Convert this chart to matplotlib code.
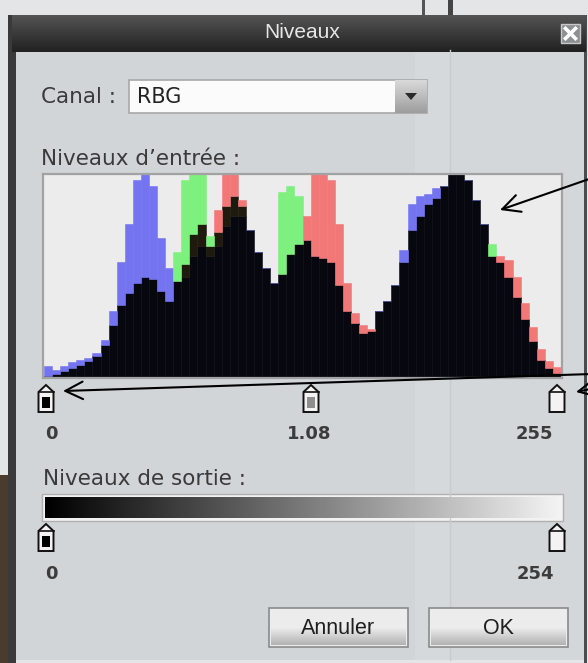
import numpy as np
import matplotlib
matplotlib.use('Agg')
import matplotlib.pyplot as plt
from matplotlib.patches import Rectangle, Polygon

# histogram data: 64 bins of 4 levels each, value = % of histogram height (>100 = clipped)
bin_start = np.arange(0, 256, 4)
red = [0.5, 1.5, 3, 4.5, 6, 8, 10.5, 16, 26, 36, 42, 47, 50, 49, 43, 38,
       48, 56, 71, 76, 65, 83, 110, 110, 88, 73, 62, 54, 47, 51, 61, 66,
       80, 110, 110, 98, 76, 47, 32, 26, 24, 33, 38, 46, 57, 73, 80, 86,
       89, 95, 110, 110, 98, 88, 76, 60, 60, 58, 50, 37, 25, 14, 8, 5]
green = [0.5, 1.5, 3, 4.5, 6, 8, 10.5, 16, 26, 36, 42, 47, 50, 49, 43, 38,
         62, 98, 110, 110, 70, 72, 85, 90, 85, 73, 62, 54, 47, 92, 95, 90,
         68, 60, 59, 57, 46, 33, 27, 22, 23, 33, 38, 46, 57, 73, 80, 86,
         89, 95, 110, 110, 98, 88, 76, 66, 57, 50, 40, 29, 18, 8.5, 4.5, 2]
blue = [5.5, 3.5, 5.5, 7.5, 8.5, 9.5, 12, 18.5, 33, 57, 76, 98, 110, 95, 69, 54,
        48, 50, 60, 65, 60, 65, 75, 80, 80, 73, 62, 54, 47, 51, 61, 66,
        68, 60, 59, 57, 46, 33, 27, 22, 23, 33, 38, 46, 63, 86, 90, 91,
        94, 95, 110, 110, 98, 88, 76, 60, 57, 50, 40, 29, 18, 8.5, 4.5, 2]

input_labels = ['0', '1.08', '255']
output_labels = ['0', '254']

UI = 'DejaVu Sans'
ARIAL = 'Liberation Sans'

fig = plt.figure(figsize=(5.88, 6.63), dpi=100)
ax = fig.add_axes([0, 0, 1, 1])
ax.axis('off')


def rect(x0, y0, x1, y1, **kw):
    ax.add_patch(Rectangle((x0, y0), x1 - x0, y1 - y0, **kw))


# --- background / window frame
rect(0, 0, 588, 663, facecolor='#e4e5e6', lw=0)
rect(0, 475, 9, 663, facecolor='#4a3b2c', lw=0)
rect(8, 15, 16, 663, facecolor='#3a3a3a', lw=0)
rect(16, 50, 585, 660, facecolor='#d1d5d8', lw=0)
rect(415, 50, 450, 660, facecolor='#d6d9dc', lw=0)
rect(450, 50, 585, 660, facecolor='#d4d7da', lw=0)
ax.plot([450, 450], [50, 660], color='#c8cbce', lw=1)
rect(584, 15, 587, 663, facecolor='#4a4c4e', lw=0)
rect(422, 0, 425, 15, facecolor='#555555', lw=0)
rect(448, 0, 453, 15, facecolor='#444444', lw=0)

# title bar
grad_v = np.linspace(0.33, 0.13, 40).reshape(-1, 1)
ax.imshow(grad_v, extent=(12, 586, 52, 15), cmap='gray', vmin=0, vmax=1,
          aspect='auto', zorder=1)
ax.text(302, 33, 'Niveaux', family=ARIAL, fontsize=15, color='#e6e6e6',
        ha='center', va='center', zorder=3)
rect(561, 24, 580, 43, facecolor='#8d9092', edgecolor='#c8c8c8', lw=1, zorder=3)
ax.plot([565.5, 575.5], [28.5, 38.5], color='white', lw=2.6, zorder=4)
ax.plot([565.5, 575.5], [38.5, 28.5], color='white', lw=2.6, zorder=4)

# --- canal
ax.text(41, 97, 'Canal :', family=UI, fontsize=15.5, color='#3a3a3a',
        ha='left', va='center')
rect(129, 80, 427, 113, facecolor='#fbfbfb', edgecolor='#a8a8a8', lw=1.2)
grad_b = np.linspace(0.85, 0.62, 30).reshape(-1, 1)
ax.imshow(grad_b, extent=(395, 427, 113, 80), cmap='gray', vmin=0, vmax=1,
          aspect='auto', zorder=2)
ax.add_patch(Polygon([[405, 93], [417, 93], [411, 100]], closed=True,
                     facecolor='#2a2a2a', lw=0, zorder=3))
ax.text(137, 97, 'RBG', family=UI, fontsize=15, color='#222222',
        ha='left', va='center')

ax.text(41, 159, 'Niveaux d\u2019entrée :', family=UI, fontsize=15.5,
        color='#3a3a3a', ha='left', va='center')


# --- sliders
def marker(cx, top, inner):
    body = [[cx, top], [cx + 7.5, top + 7], [cx + 7.5, top + 27],
            [cx - 7.5, top + 27], [cx - 7.5, top + 7]]
    ax.add_patch(Polygon(body, closed=True, facecolor='#f4f2f2',
                         edgecolor='#111111', lw=1.4, zorder=5))
    ax.plot([cx - 7.5, cx + 7.5], [top + 7, top + 7], color='#111111', lw=1.2, zorder=6)
    if inner is not None:
        rect(cx - 4, top + 12, cx + 4, top + 23, facecolor=inner, lw=0, zorder=6)


marker(46, 385, '#000000')
marker(311, 385, '#8e8e8e')
marker(557, 385, None)
for x, s in zip([51, 309, 534], input_labels):
    ax.text(x, 434, s, family=UI, fontsize=13, fontweight='bold',
            color='#3c3c3c', ha='center', va='center')

ax.text(43, 479, 'Niveaux de sortie :', family=UI, fontsize=15.5,
        color='#3a3a3a', ha='left', va='center')
rect(42, 494, 563, 521, facecolor='#f2f2f2', edgecolor='#b0b0b0', lw=1)
grad_h = np.linspace(0, 1, 256).reshape(1, -1)
ax.imshow(grad_h, extent=(45, 560, 518, 497), cmap='gray', vmin=0, vmax=1.05,
          aspect='auto', zorder=2)
marker(46, 524, '#000000')
marker(557, 524, None)
for x, s in zip([51, 535], output_labels):
    ax.text(x, 574, s, family=UI, fontsize=13, fontweight='bold',
            color='#3c3c3c', ha='center', va='center')

# --- buttons
for x0, x1, label in [(269, 408, 'Annuler'), (429, 568, 'OK')]:
    rect(x0, 608, x1, 647, facecolor='#ececec', edgecolor='#8a8a8a', lw=1.2, zorder=2)
    grad_btn = np.linspace(0.93, 0.70, 20).reshape(-1, 1)
    ax.imshow(grad_btn, extent=(x0 + 2, x1 - 2, 645, 627), cmap='gray',
              vmin=0, vmax=1, aspect='auto', zorder=3)
    ax.text((x0 + x1) / 2, 628, label, family=ARIAL, fontsize=15.5,
            color='#1e1e1e', ha='center', va='center', zorder=4)

ax.set_xlim(0, 588)
ax.set_ylim(663, 0)

# --- histogram
hx0, hx1, hy0, hy1 = 43, 562, 174, 378
axh = fig.add_axes([hx0 / 588, 1 - hy1 / 663, (hx1 - hx0) / 588, (hy1 - hy0) / 663])
axh.set_facecolor('#ececec')
for sp in axh.spines.values():
    sp.set_color('#a2a2a2')
    sp.set_linewidth(1.6)
axh.set_xticks([])
axh.set_yticks([])

chan = np.array([red, green, blue], dtype=float)
order = np.argsort(chan, axis=0, kind='stable')
srt = np.sort(chan, axis=0)
lo, mid, hi = srt[0], srt[1], srt[2]
light = ['#f27878', '#7ef07e', '#7474f0']
dark_pair = {(0, 1): '#1f1a0e', (0, 2): '#2a1636', (1, 2): '#10282a'}
top_col = [light[i] for i in order[2]]
mid_col = [dark_pair[tuple(sorted((a, b)))] for a, b in zip(order[1], order[2])]

for h, b, c in [(lo, 0, '#07070f'), (mid - lo, lo, mid_col), (hi - mid, mid, top_col)]:
    axh.bar(bin_start, h, width=4, bottom=b, align='edge', color=c,
            edgecolor=c, linewidth=0.4)

axh.set_xlim(-0.5, 256.5)
axh.set_ylim(-0.5, 101)

# --- annotation arrows, on top of everything
axa = fig.add_axes([0, 0, 1, 1])
axa.axis('off')
axa.set_xlim(0, 588)
axa.set_ylim(663, 0)
arrow = dict(arrowstyle='->,head_length=0.9,head_width=0.45', color='black',
             lw=1.5, mutation_scale=14, shrinkA=0, shrinkB=0)
axa.annotate('', xy=(500, 210), xytext=(592, 178), arrowprops=arrow,
             annotation_clip=False)
axa.annotate('', xy=(63, 391), xytext=(592, 374), arrowprops=arrow,
             annotation_clip=False)
axa.annotate('', xy=(576, 392), xytext=(600, 387), arrowprops=arrow,
             annotation_clip=False)

fig.savefig('out.png', dpi=100)
